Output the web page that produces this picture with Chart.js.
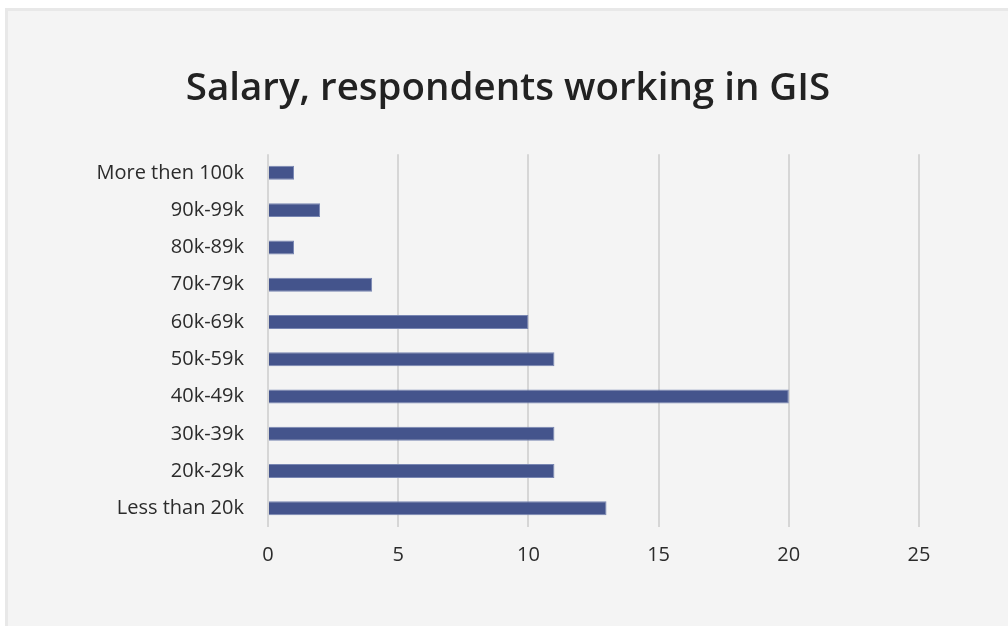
<!DOCTYPE html>
<html>
<head>
<meta charset="utf-8">
<title>Salary, respondents working in GIS</title>
<script src="https://cdn.jsdelivr.net/npm/chart.js@4/dist/chart.umd.min.js"></script>
<style>
  html, body { margin: 0; padding: 0; background: #fff; }
  .frame {
    position: absolute; left: 5px; top: 8px; right: 0; bottom: 0;
    background: #f4f4f4;
    border-left: 3px solid #e8e8e8;
    border-top: 3px solid #e8e8e8;
  }
  .wrap { position: absolute; left: 0; top: 0; width: 1008px; height: 626px; }
</style>
</head>
<body>
<div class="frame"></div>
<div class="wrap"><canvas id="salaryChart"></canvas></div>
<script>
// salary bands, top row first
const bands = ['More then 100k', '90k-99k', '80k-89k', '70k-79k', '60k-69k',
               '50k-59k', '40k-49k', '30k-39k', '20k-29k', 'Less than 20k'];
const respondents = [1, 2, 1, 4, 10, 11, 20, 11, 11, 13];
const xTicks = [0, 5, 10, 15, 20, 25];

const ink = '#2b2b2b';
const barFill = '#44548c';
const barEdge = '#7886b2';
const gridGray = '#d6d6d6';
const labelFont = { family: 'Open Sans', size: 20 };

new Chart(document.getElementById('salaryChart'), {
  type: 'bar',
  data: {
    labels: bands,
    datasets: [{
      data: respondents,
      backgroundColor: barFill,
      borderColor: barEdge,
      borderWidth: 1,
      barPercentage: 0.375,
      categoryPercentage: 1
    }]
  },
  options: {
    indexAxis: 'y',
    responsive: true,
    maintainAspectRatio: false,
    animation: false,
    // left/right padding keep the title centred over the page
    layout: { padding: { top: 40, right: 89, bottom: 0, left: 97 } },
    plugins: {
      legend: { display: false },
      tooltip: { enabled: false },
      title: {
        display: true,
        text: 'Salary, respondents working in GIS',
        color: '#222',
        font: { family: 'Open Sans', size: 38.5, weight: '600' },
        padding: { top: 26, bottom: 42 }
      }
    },
    scales: {
      x: {
        min: 0, max: 25,
        afterBuildTicks: s => { s.ticks = xTicks.map(v => ({ value: v })); },
        afterFit: s => { s.height = 99; },
        grid: { color: gridGray, lineWidth: 2, drawTicks: false },
        border: { display: false },
        ticks: { color: ink, padding: 16, font: labelFont }
      },
      y: {
        afterFit: s => { s.width = 268 - 97; },
        grid: { display: false, drawTicks: false },
        border: { display: false },
        ticks: { color: ink, padding: 24, font: labelFont }
      }
    }
  }
});
</script>
</body>
</html>
